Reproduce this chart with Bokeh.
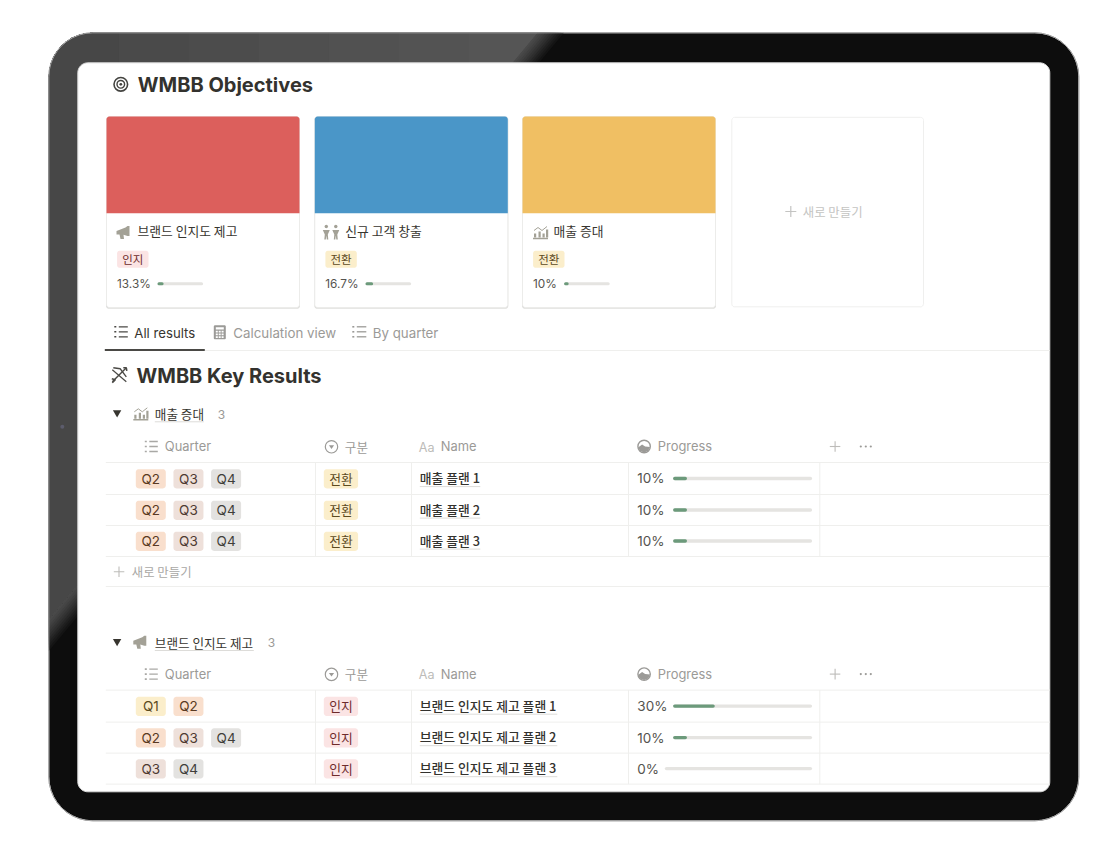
import math
from bokeh.plotting import figure
from bokeh.models import Range1d
from bokeh.core.properties import value
from bokeh.embed import file_html
from bokeh.resources import INLINE

# ---------- data ----------
PAGE_TITLE = "WMBB Objectives"
SECTION_TITLE = "WMBB Key Results"
OBJECTIVES = ["브랜드 인지도 제고", "신규 고객 창출", "매출 증대"]
OBJECTIVE_COLORS = ["#dc5f5c", "#4a96c8", "#f0bf63"]
OBJECTIVE_TAGS = ["인지", "전환", "전환"]
OBJECTIVE_PROGRESS = [13.3, 16.7, 10]
OBJECTIVE_LABELS = ["13.3%", "16.7%", "10%"]
NEW_LABEL = "새로 만들기"
TABS = ["All results", "Calculation view", "By quarter"]
COLUMNS = ["Quarter", "구분", "Name", "Progress"]

SALES_GROUP = "매출 증대"
SALES_COUNT = "3"
SALES_QUARTERS = [["Q2", "Q3", "Q4"], ["Q2", "Q3", "Q4"], ["Q2", "Q3", "Q4"]]
SALES_TYPES = ["전환", "전환", "전환"]
SALES_NAMES = ["매출 플랜 1", "매출 플랜 2", "매출 플랜 3"]
SALES_PROGRESS = [10, 10, 10]

BRAND_GROUP = "브랜드 인지도 제고"
BRAND_COUNT = "3"
BRAND_QUARTERS = [["Q1", "Q2"], ["Q2", "Q3", "Q4"], ["Q3", "Q4"]]
BRAND_TYPES = ["인지", "인지", "인지"]
BRAND_NAMES = ["브랜드 인지도 제고 플랜 1", "브랜드 인지도 제고 플랜 2", "브랜드 인지도 제고 플랜 3"]
BRAND_PROGRESS = [30, 10, 0]

# ---------- styles ----------
LATIN = "Inter"
CJK = "Noto Sans CJK KR"
CJK_MEDIUM = "Noto Sans CJK KR Medium"
INK = "#37352f"
GREY = "#9b9a97"
ICON = "#a3a196"
RULE = "#efefed"
GREEN = "#6c9a7b"
TRACK = "#e5e4e1"
Q_BG = {"Q1": "#fbeecb", "Q2": "#f9dfcd", "Q3": "#eee0da", "Q4": "#e3e2e0"}
Q_FG = {"Q1": "#5c4a1e", "Q2": "#5a3a22", "Q3": "#4f3a32", "Q4": "#3f3e3a"}
TYPE_BG = {"인지": "#fbe4e4", "전환": "#fbeecb"}
TYPE_FG = {"인지": "#6e2b2b", "전환": "#5c4a1e"}

p = figure(width=1100, height=842, x_range=Range1d(0.7, 1100.7), y_range=Range1d(842.7, 0.7),
           x_axis_type=None, y_axis_type=None, toolbar_location=None,
           output_backend="svg", min_border=0, outline_line_color=None,
           background_fill_color="white", border_fill_color="white")
p.grid.visible = False


# ---------- helpers ----------
def rr_pts(x0, y0, x1, y1, r):
    xs, ys = [], []
    for cx, cy, a0 in ((x1 - r, y0 + r, -90), (x1 - r, y1 - r, 0), (x0 + r, y1 - r, 90), (x0 + r, y0 + r, 180)):
        for k in range(11):
            a = math.radians(a0 + 9 * k)
            xs.append(cx + r * math.cos(a))
            ys.append(cy + r * math.sin(a))
    return xs, ys


def rr(x0, y0, x1, y1, r, fill, line=None, lw=1):
    xs, ys = rr_pts(x0, y0, x1, y1, r)
    p.patch(xs, ys, fill_color=fill, line_color=line, line_width=lw)


def clip(xs, ys, a, b, c):
    out_x, out_y = [], []
    n = len(xs)
    for i in range(n):
        x0, y0, x1, y1 = xs[i], ys[i], xs[(i + 1) % n], ys[(i + 1) % n]
        d0, d1 = a * x0 + b * y0 - c, a * x1 + b * y1 - c
        if d0 <= 0:
            out_x.append(x0)
            out_y.append(y0)
        if (d0 < 0) != (d1 < 0):
            t = d0 / (d0 - d1)
            out_x.append(x0 + t * (x1 - x0))
            out_y.append(y0 + t * (y1 - y0))
    return out_x, out_y


def has_hangul(s):
    return any("\uac00" <= ch <= "\ud7a3" for ch in s)


def txt(x, y, s, size, color=INK, bold=False, align="left", font=None):
    family = font or (CJK if has_hangul(s) else LATIN)
    p.text([x], [y], text=[s], text_font=value(family), text_font_size=f"{size}px", text_color=color,
           text_font_style="bold" if bold else "normal", text_align=align, text_baseline="middle")


def ln(xs, ys, color, w=1.0, cap="butt"):
    p.line(xs, ys, line_color=color, line_width=w, line_cap=cap)


def circ(x, y, r, fill=None, line=None, w=1.0):
    p.circle([x], [y], radius=r, fill_color=fill, line_color=line, line_width=w)


def poly(x, y, pts, color):
    p.patch([x + a for a, _ in pts], [y + b for _, b in pts], fill_color=color, line_color=None)


def icon_megaphone(x, y, c=ICON):
    poly(x, y, [(0, 5), (9, 1.5), (11, 0), (13, 0), (13, 10), (11, 10), (7, 8.8), (7.5, 13), (4, 13), (3, 8.6), (0, 8.6)], c)


def icon_people(x, y, c=ICON):
    for dx in (0, 9.5):
        circ(x + dx + 3.5, y + 2, 1.7, fill=c)
        poly(x + dx, y, [(0, 5.5), (7, 5.5), (5, 10), (5.5, 15), (4, 15), (3.5, 11), (3, 15), (1.5, 15), (2, 10)], c)


def icon_chart(x, y, c=ICON):
    ln([x, x + 15], [y + 13, y + 13], c, 1.4)
    for dx, top in ((1, 8), (5.5, 6), (9.5, 8), (13, 4)):
        p.quad(left=[x + dx], right=[x + dx + 2.2], top=[y + top], bottom=[y + 12], fill_color=c, line_color=None)
    ln([x + 1, x + 5, x + 9, x + 14], [y + 5, y + 2, y + 5, y + 1], c, 1.0)


def icon_list(x, y, c=GREY, w=13):
    for k in range(3):
        yy = y + k * 5
        ln([x, x + 2], [yy, yy], c, 1.6)
        ln([x + 4.5, x + w], [yy, yy], c, 1.3)


def icon_calc(x, y, c=GREY):
    rr(x, y, x + 12, y + 14, 1.2, c)
    p.quad(left=[x + 2], right=[x + 10], top=[y + 2], bottom=[y + 4.2], fill_color="white", line_color=None)
    for r_ in range(3):
        for q in range(3):
            xx, yy = x + 2 + q * 2.9, y + 5.5 + r_ * 2.7
            p.quad(left=[xx], right=[xx + 2], top=[yy], bottom=[yy + 1.8], fill_color="white", line_color=None)


def icon_target(x, y):
    c = "#444440"
    circ(x, y, 6.8, line=c, w=1.6)
    circ(x, y, 3.8, line=c, w=1.4)
    circ(x, y, 1.4, fill=c)


def icon_bow(x, y):
    c = "#4a4945"
    ln([x - 7, x + 7], [y + 7, y - 7], c, 1.4)
    ln([x - 7, x + 7], [y - 5, y + 7], c, 1.2)
    ln([x - 6, x + 1, x + 7], [y - 7, y - 6, y + 2], c, 1.4)
    ln([x + 4, x + 7, x + 7.5], [y - 7, y - 7, y - 4], c, 1.6)
    ln([x - 7.5, x - 4, x - 7], [y + 4, y + 5, y + 8], c, 1.6)


# ---------- tablet frame ----------
OX0, OY0, OX1, OY1, OR = 49, 33, 1079, 821, 44
SX0, SY0, SX1, SY1, SR = 78, 63, 1050, 792, 10
fx, fy = rr_pts(OX0, OY0, OX1, OY1, OR)
p.patch(fx, fy, fill_color="#0d0d0d", line_color="#a8a8a8", line_width=1)
EDGE = 678.0
# nested painting from the outside in, so no seams appear between shades
SOFT = ["#141414", "#1a1a1a", "#202020", "#272727", "#2e2e2e", "#343434", "#3a3a3a", "#404040", "#454545", "#494949"]
for k, shade in enumerate(SOFT):
    bx, by = clip(fx, fy, 1.2, 1, EDGE + (len(SOFT) - k) * 3.2)
    p.patch(bx, by, fill_color=shade, line_color=None)
gx, gy = clip(fx, fy, 1.2, 1, EDGE)
SHADES = ["#565656", "#555555", "#535353", "#515151", "#4f4f4f", "#4c4c4c", "#4a4a4a", "#474747"]
for k, shade in enumerate(SHADES):
    bx, by = clip(gx, gy, 1, 0, 49 + (len(SHADES) - k) * 70)
    p.patch(bx, by, fill_color=shade, line_color=None)
ln(fx + fx[:1], fy + fy[:1], "#a8a8a8", 1)
circ(62.5, 427, 2, fill="#5c5c6c")
rr(SX0, SY0, SX1, SY1, SR, "white", "#d8d8d8", 1)

# ---------- objectives ----------
icon_target(121, 84.5)
txt(138, 85.5, PAGE_TITLE, 20, "#33322e", True)

CARD_X = [106.7, 315, 522.7]
CARD_W = 193
ICON_FN = [icon_megaphone, icon_people, icon_chart]
ICON_DX = [10, 8, 10.5]
ICON_DY = [109.5, 108, 109]
TITLE_DX = [31, 30.5, 31]
BAR_DX = [51, 50.7, 41.6]
BAR_W = 45.6
for i, x in enumerate(CARD_X):
    rr(x - 0.5, 117, x + CARD_W + 0.5, 309, 3, "#dfdfdd")
    rr(x, 116.7, x + CARD_W, 307.7, 3, "white", "#ebebe9", 0.8)
    xs, ys = rr_pts(x, 116.7, x + CARD_W, 240, 3)
    cx, cy = clip(xs, ys, 0, 1, 213.5)
    p.patch(cx, cy, fill_color=OBJECTIVE_COLORS[i], line_color=None)
    ICON_FN[i](x + ICON_DX[i], 116.7 + ICON_DY[i])
    txt(x + TITLE_DX[i], 231, OBJECTIVES[i], 12.8)
    tag = OBJECTIVE_TAGS[i]
    rr(x + 10.6, 251, x + 42, 268, 2.5, TYPE_BG[tag])
    txt(x + 26.3, 259, tag, 11.5, TYPE_FG[tag], align="center")
    txt(x + 10.5, 284.3, OBJECTIVE_LABELS[i], 11.8, "#55534e")
    bx = x + BAR_DX[i]
    p.segment([bx + 1.5], [284], [bx + BAR_W - 1.5], [284], line_color=TRACK, line_width=3, line_cap="round")
    p.segment([bx + 1.5], [284], [bx + BAR_W * OBJECTIVE_PROGRESS[i] / 100 - 1.5], [284],
              line_color=GREEN, line_width=3, line_cap="round")

rr(732, 117.5, 923.7, 307, 3, "white", "#efefee", 1)
ln([785.5, 796.5], [211.7, 211.7], "#c4c4c2", 1.2)
ln([791, 791], [206.2, 217.2], "#c4c4c2", 1.2)
txt(803, 212, NEW_LABEL, 12.4, "#c4c4c2")

# ---------- tabs ----------
icon_list(114.5, 327, "#4a4945", 13.5)
txt(134.5, 332.7, TABS[0], 13.2, INK)
icon_calc(214, 325.5)
txt(233.5, 332.7, TABS[1], 13.3, "#9b9a97")
icon_list(352.5, 327, GREY, 14)
txt(373, 332.7, TABS[2], 13.3, "#9b9a97")
ln([205, 1050], [350.7, 350.7], RULE, 1)
ln([105, 205], [350.3, 350.3], "#4a4945", 2)

icon_bow(119.5, 375)
txt(136.7, 376, SECTION_TITLE, 20, "#33322e", True)


# ---------- tables ----------
def header(y):
    icon_list(145, y - 5, "#a9a8a5", 13)
    txt(165, y, COLUMNS[0], 12.9, GREY)
    circ(331.7, y + 0.3, 6.2, line=GREY, w=1.2)
    poly(331.7, y + 0.3, [(-2.6, -1.5), (2.6, -1.5), (0, 2.2)], GREY)
    txt(345, y - 0.5, COLUMNS[1], 12.6, GREY)
    txt(419, y + 0.5, "Aa", 12.6, "#bdbcb9")
    txt(441, y, COLUMNS[2], 12.9, GREY)
    circ(644.3, y, 6.2, line=GREY, w=1.4)
    poly(644.3, y, [(-6, 1), (-2, -2), (1, 0), (6, 0.5), (4, 4.5), (0, 6), (-4, 4.5)], GREY)
    txt(658, y, COLUMNS[3], 12.9, GREY)
    ln([830, 840.5], [y, y], "#bdbcb9", 1.1)
    ln([835.3, 835.3], [y - 5.3, y + 5.3], "#bdbcb9", 1.1)
    for dx in (861, 866, 871):
        circ(dx, y, 1.1, fill="#9b9a97")


def group(y_group, icon_fn, icon_y, title, title_end, count, count_x, y_head, row_lines, quarters, types, names, progress):
    poly(117.3, y_group, [(-4.2, -3.6), (4.2, -3.6), (0, 3.8)], "#37352f")
    icon_fn(133.5, icon_y)
    txt(155, y_group - 0.5, title, 12.6)
    ln([155, title_end], [y_group + 8, y_group + 8], "#dddcd9", 1)
    txt(count_x, y_group + 0.3, count, 12, GREY)
    header(y_head)
    for yy in row_lines:
        ln([106, 1050], [yy, yy], RULE, 1)
    for vx in (315.7, 411.7, 628.7, 820):
        ln([vx, vx], [row_lines[0], row_lines[3]], RULE, 1)
    for r_ in range(3):
        yc = (row_lines[r_] + row_lines[r_ + 1]) / 2 + 0.3
        for k, q in enumerate(quarters[r_]):
            x0 = 136 + k * 37.65
            rr(x0, yc - 9.6, x0 + 30, yc + 9.6, 3, Q_BG[q])
            txt(x0 + 15, yc - 0.1, q, 13.5, Q_FG[q], align="center")
        t = types[r_]
        rr(324, yc - 9.6, 358.3, yc + 9.6, 3, TYPE_BG[t])
        txt(341.2, yc - 0.7, t, 12.8, TYPE_FG[t], align="center")
        txt(420, yc - 1.2, names[r_], 12.8, "#33322e", font=CJK_MEDIUM)
        uw = 60.5 if len(names[r_]) < 10 else 137.5
        ln([420, 420 + uw], [yc + 7.8, yc + 7.8], "#dddcd9", 1)
        v = progress[r_]
        txt(637.5, yc - 0.4, f"{v}%", 13.5, "#55534e")
        bx0 = 665 if v == 0 else 673.3
        bar_w = 139
        right = 812.3
        p.segment([bx0 + 1.7], [yc - 0.3], [right - 1.7], [yc - 0.3], line_color=TRACK, line_width=3.4, line_cap="round")
        if v > 0:
            p.segment([bx0 + 1.7], [yc - 0.3], [bx0 + bar_w * v / 100 - 1.7], [yc - 0.3],
                      line_color=GREEN, line_width=3.4, line_cap="round")


group(414, icon_chart, 407, SALES_GROUP, 204, SALES_COUNT, 218, 446.7,
      [462.7, 494.7, 525.7, 556.7], SALES_QUARTERS, SALES_TYPES, SALES_NAMES, SALES_PROGRESS)
ln([114, 124.5], [572, 572], "#bdbcb9", 1.1)
ln([119.2, 119.2], [566.8, 577.2], "#bdbcb9", 1.1)
txt(132, 571.7, NEW_LABEL, 12.4, "#a9a8a5")
ln([106, 1050], [586.7, 586.7], RULE, 1)

group(642.7, icon_megaphone, 636, BRAND_GROUP, 254, BRAND_COUNT, 268, 674.3,
      [690.3, 722.3, 753.3, 784.3], BRAND_QUARTERS, BRAND_TYPES, BRAND_NAMES, BRAND_PROGRESS)

open("out.html", "w").write(file_html(p, INLINE))
